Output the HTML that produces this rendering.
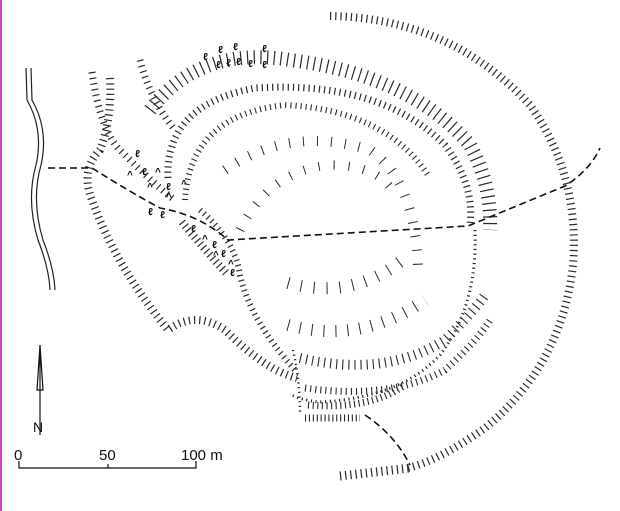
<!DOCTYPE html>
<html><head><meta charset="utf-8"><style>
html,body{margin:0;padding:0;background:#fff;}
svg{display:block;}
text{font-family:"Liberation Sans",sans-serif;fill:#111;}
.h{fill:none;stroke:#2a2a2a;}
.g{font-size:10px;font-weight:bold;font-family:"Liberation Serif",serif;}
</style></head><body>
<svg width="620" height="511" viewBox="0 0 620 511" xmlns="http://www.w3.org/2000/svg">
<rect x="0" y="0" width="2" height="511" fill="#d040d0"/>
<!-- outer ring -->
<path class="h" stroke-width="8" stroke-dasharray="1.2 4" d="M330,16 Q450,18 530,105 Q580,175 573,265 Q562,365 485,428 Q440,460 408,468"/>
<path class="h" stroke-width="9" stroke-dasharray="1.2 4" d="M340,476 L410,468"/>
<!-- second wall (long hachures) -->
<path class="h" stroke-width="14" stroke-dasharray="1.2 5.5" d="M150,110 Q200,45 290,60 Q410,75 470,145 Q492,185 490,230"/>
<path class="h" stroke-width="7" stroke-dasharray="1.2 4" d="M168,178 Q165,105 255,88 Q380,80 445,145 Q475,185 470,225"/>
<path class="h" stroke-width="6" stroke-dasharray="1.1 4" d="M185,200 Q190,115 285,105 Q385,110 428,175"/>
<path class="h" stroke-width="10" stroke-dasharray="1 13" d="M225,170 Q290,125 370,150 Q415,180 418,268"/>
<path class="h" stroke-width="9" stroke-dasharray="1 14" d="M240,230 Q270,170 330,165 Q380,165 395,195"/>
<!-- lower inner arcs -->
<path class="h" stroke-width="12" stroke-dasharray="1 11" d="M288,325 Q360,345 425,300"/>
<path class="h" stroke-width="12" stroke-dasharray="1 12" d="M288,283 Q350,300 400,262"/>
<path class="h" stroke-width="3" stroke-dasharray="1.2 3.5" d="M475,230 Q478,305 440,355 Q400,398 320,402 Q300,400 292,395"/>
<path class="h" stroke-width="10" stroke-dasharray="1.1 5" d="M300,358 Q385,378 445,340 Q475,310 485,295"/>
<path class="h" stroke-width="7" stroke-dasharray="1.1 4" d="M305,388 Q390,400 445,370 Q478,340 490,320"/>
<path class="h" stroke-width="7" stroke-dasharray="1.1 3.5" d="M308,405 Q370,410 405,385"/>
<path class="h" stroke-width="7" stroke-dasharray="1.1 2.8" d="M305,418 L360,418"/>
<path class="h" stroke-width="2.5" stroke-dasharray="1.2 3.5" d="M293,350 Q300,380 300,415"/>
<!-- left boundary -->
<path class="h" stroke-width="8" stroke-dasharray="1.2 4" d="M110,78 Q112,120 100,150 Q80,170 92,200 Q115,265 168,330 Q195,310 225,330 Q265,370 297,378"/>
<path class="h" stroke-width="7" stroke-dasharray="1.2 4.5" d="M92,72 Q100,130 120,150 Q160,190 175,200"/>
<path class="h" stroke-width="8" stroke-dasharray="1.2 3.5" d="M182,222 Q205,250 228,275"/>
<path class="h" stroke-width="6" stroke-dasharray="1.2 4" d="M200,210 Q235,240 240,275 Q250,320 295,370"/>
<path class="h" stroke-width="7" stroke-dasharray="1.2 4.5" d="M140,60 Q150,100 175,130"/>
<!-- dashed track -->
<path fill="none" stroke="#111" stroke-width="1.6" stroke-dasharray="7 4" d="M48,168 L92,168 Q130,192 160,208 Q200,215 228,240 L468,226 L565,186 Q590,170 600,148"/>
<path fill="none" stroke="#111" stroke-width="1.6" stroke-dasharray="7 4" d="M365,415 Q395,435 410,465"/>
<!-- symbols -->
<g class="g">
<text x="203" y="60">ℓ</text><text x="218" y="53">ℓ</text><text x="233" y="50">ℓ</text><text x="262" y="52">ℓ</text>
<text x="216" y="68">ℓ</text><text x="226" y="66">ℓ</text><text x="236" y="65">ℓ</text><text x="248" y="67">ℓ</text><text x="262" y="68">ℓ</text>
<text x="135" y="157">ℓ</text><text x="142" y="175">ℓ</text><text x="166" y="190">ℓ</text><text x="148" y="215">ℓ</text><text x="160" y="218">ℓ</text>
<text x="191" y="232">ℓ</text><text x="212" y="248">ℓ</text><text x="221" y="257">ℓ</text><text x="230" y="276">ℓ</text>
<text x="127" y="178">^</text><text x="155" y="175">^</text><text x="147" y="190">^</text><text x="181" y="187">^</text><text x="166" y="200">^</text><text x="202" y="242">^</text><text x="213" y="258">^</text><text x="228" y="267">^</text>
</g>
<!-- river -->
<path fill="none" stroke="#222" stroke-width="1.2" d="M26,68 L27,100 Q44,130 36,165 Q26,200 38,240 Q49,268 50,290"/>
<path fill="none" stroke="#222" stroke-width="1.2" d="M31,68 L32,100 Q49,130 41,165 Q31,200 43,240 Q54,268 55,290"/>
<!-- north arrow -->
<path fill="none" stroke="#111" stroke-width="1.2" d="M40,345 L40,435 M40,345 L43,390 L37,390 Z"/>
<text x="33" y="432" font-size="14">N</text>
<!-- scale -->
<path fill="none" stroke="#111" stroke-width="1.2" d="M19,461 L19,468 L196,468 L196,461 M108,464 L108,468"/>
<text x="14" y="460" font-size="15">0</text>
<text x="99" y="460" font-size="15">50</text>
<text x="181" y="460" font-size="15">100 m</text>
</svg>
</body></html>
